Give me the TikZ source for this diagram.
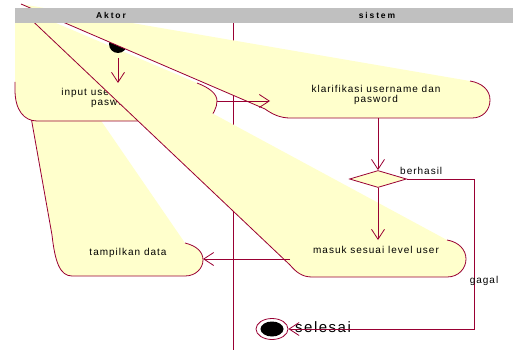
\documentclass[tikz,border=0pt]{standalone}
\usepackage{fontspec}
\setmainfont{Liberation Sans}
\newfontfamily\actfont[LetterSpace=10]{Liberation Sans}
\newfontfamily\headfont[LetterSpace=22]{Liberation Sans}
\newfontfamily\endfont[LetterSpace=10]{Liberation Sans}
\usetikzlibrary{arrows.meta,shapes.geometric}
\definecolor{umlred}{RGB}{153,0,51}
\definecolor{umlfill}{RGB}{255,255,204}
\definecolor{lanegray}{RGB}{192,192,192}

\begin{document}
\begin{tikzpicture}[
    x=1pt, y=-1pt,
    act_fill/.style={fill=umlfill},
    act_line/.style={draw=umlred, line width=0.8pt},
    act_text/.style={font=\actfont\fontsize{10pt}{10.5pt}\selectfont, align=center, inner sep=0pt},
    lane_text/.style={font=\headfont\bfseries\fontsize{8.5pt}{9pt}\selectfont, inner sep=0pt},
    flow_arrow/.style={-{Straight Barb[length=10pt,width=13pt]}, draw=umlred, line width=0.8pt},
    flow_line/.style={draw=umlred, line width=0.8pt}
]
    \useasboundingbox (0,0) rectangle (513,350);
    % Swimlane divider
    \coordinate (lane_top) at (233,23);
    \coordinate (lane_bot) at (233,350);
    \draw[flow_line] (lane_top) -- (lane_bot);
    % Tampilkan data
    \fill[act_fill] (25,10) -- (185,243) .. controls (197,246) and (203,252) .. (203,260) .. controls (203,268) and (196,276) .. (185,276) -- (72,276) .. controls (60,276) and (55,262) .. (52,235) -- (31,117) -- cycle;
    \draw[act_line] (31,117) -- (52,235) .. controls (55,262) and (60,276) .. (72,276) -- (185,276) .. controls (196,276) and (203,268) .. (203,260) .. controls (203,252) and (197,246) .. (185,243);
    % Input username
    \fill[act_fill] (15,12) -- (30,12) -- (197,83) .. controls (210,88) and (217,94) .. (217,101) .. controls (217,108) and (213,114) .. (208,121) -- (37,121) .. controls (24,121) and (15,110) .. (15,90) -- cycle;
    \draw[act_line] (197,83) .. controls (210,88) and (217,94) .. (217,101) .. controls (217,108) and (213,114) .. (208,121) -- (37,121) .. controls (24,121) and (15,110) .. (15,90) -- (15,82);
    \node[act_text] (input) at (113,98) {input username dan\\pasword};
    % Start
    \node[circle, fill=black, minimum size=18pt, inner sep=0pt] (start) at (118,44) {};
    % Masuk sesuai level user
    \fill[act_fill] (21,10) -- (447,240) .. controls (459,242) and (466,250) .. (466,259) .. controls (466,268) and (459,277) .. (447,277) -- (312,277) .. controls (302,277) and (296,272) .. (290,265) -- cycle;
    \draw[act_line] (21,10) -- (290,265) .. controls (296,272) and (302,277) .. (312,277) -- (447,277) .. controls (459,277) and (466,268) .. (466,259) .. controls (466,250) and (459,242) .. (447,240);
    % Klarifikasi
    \fill[act_fill] (21,4) -- (470,81) .. controls (482,83) and (490,90) .. (490,100) .. controls (490,110) and (483,118) .. (472,118) -- (290,118) .. controls (280,118) and (272,114) .. (265,109) -- cycle;
    \draw[act_line] (21,4) -- (265,109) .. controls (272,114) and (280,118) .. (290,118) -- (472,118) .. controls (483,118) and (490,110) .. (490,100) .. controls (490,90) and (482,83) .. (470,81);
    % Header
    \fill[lanegray] (15,8) rectangle (513,23);
    \node[lane_text] (aktor) at (111,15.5) {Aktor};
    \node[lane_text] (sistem) at (377,15.5) {sistem};
    % Texts
    \node[act_text] (klarif) at (376,95) {klarifikasi username dan\\pasword};
    \node[act_text] (masuk) at (376,250) {masuk sesuai level user};
    \node[act_text] (tampil) at (128,253) {tampilkan data};
    % Decision
    \node[diamond, draw=umlred, fill=umlfill, line width=0.8pt, minimum width=57pt, minimum height=17pt, inner sep=0pt] (cek) at (378,179) {};
    \node[act_text, anchor=west] (berhasil) at (400,171) {berhasil};
    % End
    \node[ellipse, draw=umlred, fill=white, line width=0.8pt, minimum width=32pt, minimum height=21pt, inner sep=0pt] (akhir) at (272,329) {};
    \node[ellipse, fill=black, minimum width=23pt, minimum height=15pt, inner sep=0pt] (akhir_dot) at (272,329) {};
    \node[font=\endfont\fontsize{15pt}{17pt}\selectfont, inner sep=0pt, anchor=west] (selesai) at (295,327) {selesai};
    % Anchor points
    \coordinate (start_out) at (118,58);
    \coordinate (input_top) at (118,83);
    \coordinate (input_out) at (217,101);
    \coordinate (klarif_in) at (270,101);
    \coordinate (klarif_out) at (378,118);
    \coordinate (masuk_in) at (378,240);
    \coordinate (masuk_out) at (290,259);
    \coordinate (tampil_in) at (203,259);
    \coordinate (gagal_a) at (474,179);
    \coordinate (gagal_b) at (474,329);
    % Arrows
    \draw[flow_arrow] (start_out) -- (input_top);
    \draw[flow_arrow] (input_out) -- (klarif_in);
    \draw[flow_arrow] (klarif_out) -- (cek.north);
    \draw[flow_arrow] (cek.south) -- (masuk_in);
    \draw[flow_arrow] (masuk_out) -- (tampil_in);
    \draw[flow_arrow] (cek.east) -- (gagal_a) -- (gagal_b) -- (akhir.east);
    \node[act_text] (gagal) at (484,281) {gagal};
\end{tikzpicture}
\end{document}
